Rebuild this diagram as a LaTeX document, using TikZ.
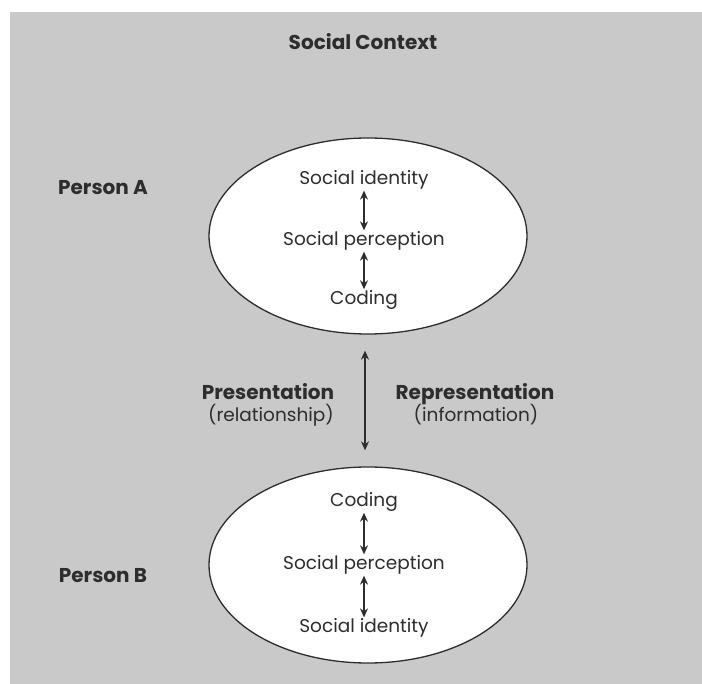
\documentclass[tikz,border=0pt]{standalone}
\usepackage{fontspec}
\setmainfont{Poppins}
\usetikzlibrary{shapes.geometric, arrows.meta}
\definecolor{bggray}{RGB}{201,201,201}
\definecolor{inkgray}{RGB}{45,45,45}
\begin{document}
\begin{tikzpicture}[x=1pt, y=-1pt,
  txt/.style={text=inkgray, inner sep=1pt, font=\fontsize{18.5}{21}\selectfont},
  heavy/.style={text=inkgray, inner sep=1pt, font=\bfseries\fontsize{20}{23}\selectfont},
  oval/.style={ellipse, draw=inkgray, fill=white, line width=1.3pt, minimum width=318pt, minimum height=196pt},
  link/.style={{Stealth[length=9pt,width=8pt]}-{Stealth[length=9pt,width=8pt]}, draw=inkgray, line width=1.4pt}]
\useasboundingbox (0,0) rectangle (702,684);
\fill[bggray] (10,12) rectangle (702,684);
% title
\node [heavy] (ctx) at (363,42) {Social Context};
% person A
\node [oval] (pa) at (368,236) {};
\node [heavy] (pna) at (103,188) {Person A};
\node [txt] (ida) at (364,180) {Social identity};
\node [txt] (pera) at (364,241) {Social perception};
\node [txt] (coda) at (364,300) {Coding};
\draw [link] (ida) -- (pera);
\draw [link] (pera) -- (coda);
% person B
\node [oval] (pb) at (368,565) {};
\node [heavy] (pnb) at (103,576) {Person B};
\node [txt] (codb) at (364,502) {Coding};
\node [txt] (perb) at (364,565) {Social perception};
\node [txt] (idb) at (364,628) {Social identity};
\draw [link] (codb) -- (perb);
\draw [link] (perb) -- (idb);
% between the two
\node [heavy, anchor=base] (pres) at (268,400) {Presentation};
\node [txt, anchor=base] (rel) at (271,422) {(relationship)};
\node [heavy, anchor=base] (repr) at (475,400) {Representation};
\node [txt, anchor=base] (inf) at (476,422) {(information)};
\draw [link, shorten <=16pt, shorten >=16pt] (pa.south -| 365,0) -- (pb.north -| 365,0);
\end{tikzpicture}
\end{document}
